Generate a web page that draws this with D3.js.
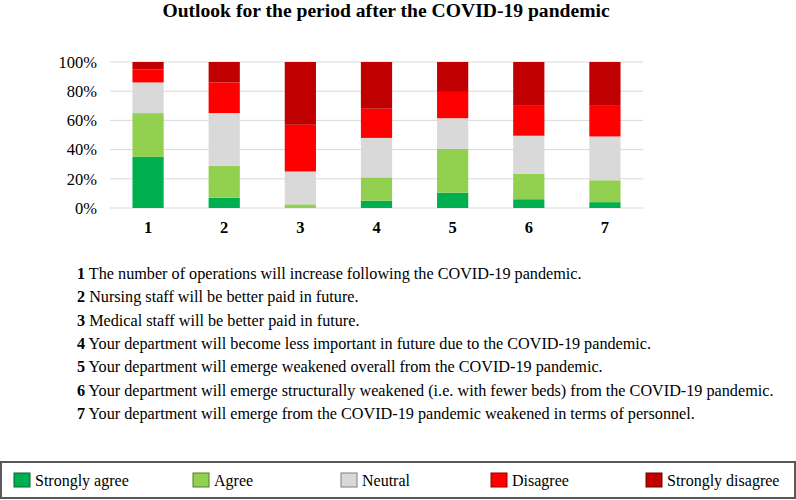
<!DOCTYPE html>
<html>
<head>
<meta charset="utf-8">
<script src="https://cdn.jsdelivr.net/npm/d3@7"></script>
<style>
  body { margin: 0; background: #fff; }
  svg { display: block; font-family: "Times New Roman", "Liberation Serif", serif; }
</style>
</head>
<body>
<svg></svg>
<script>
// Chart data (percent of respondents per answer)
const questions = ["1", "2", "3", "4", "5", "6", "7"];
const stronglyAgree    = [35, 7, 0, 5, 10.5, 6, 4];
const agree            = [30, 22, 2.5, 16, 30, 17.5, 15];
const neutral          = [21, 36, 22.5, 27, 21, 26, 30];
const disagree         = [9, 21, 32, 20, 18, 21, 21.5];
const stronglyDisagree = [5, 14, 43, 32, 20.5, 29.5, 29.5];

const seriesNames = ["Strongly agree", "Agree", "Neutral", "Disagree", "Strongly disagree"];
const seriesColors = ["#00b050", "#92d050", "#d9d9d9", "#ff0000", "#c00000"];
const yTicks = [0, 20, 40, 60, 80, 100];

const statements = [
    "The number of operations will increase following the COVID-19 pandemic.",
    "Nursing staff will be better paid in future.",
    "Medical staff will be better paid in future.",
    "Your department will become less important in future due to the COVID-19 pandemic.",
    "Your department will emerge weakened overall from the COVID-19 pandemic.",
    "Your department will emerge structurally weakened (i.e. with fewer beds) from the COVID-19 pandemic.",
    "Your department will emerge from the COVID-19 pandemic weakened in terms of personnel."
];

// Dimensions
const svgWidth = 796;
const svgHeight = 500;
const plot = { left: 110, right: 643, top: 62, bottom: 208 };
const fontStack = "\"Times New Roman\", \"Liberation Serif\", serif";

const svg = d3.select("svg")
    .attr("width", svgWidth)
    .attr("height", svgHeight);

// Build rows for the stack layout
const rows = questions.map((q, i) => ({
    q: q,
    "Strongly agree": stronglyAgree[i],
    "Agree": agree[i],
    "Neutral": neutral[i],
    "Disagree": disagree[i],
    "Strongly disagree": stronglyDisagree[i]
}));
const stacked = d3.stack().keys(seriesNames)(rows);

const x = d3.scaleBand()
    .domain(questions)
    .range([plot.left, plot.right])
    .paddingInner(0.59)
    .paddingOuter(0.295);

const y = d3.scaleLinear()
    .domain([0, 100])
    .range([plot.bottom, plot.top]);

const color = d3.scaleOrdinal().domain(seriesNames).range(seriesColors);

// Title
svg.append("text")
    .attr("x", 386)
    .attr("y", 17)
    .attr("text-anchor", "middle")
    .style("font-size", "19.6px")
    .style("font-weight", "bold")
    .text("Outlook for the period after the COVID-19 pandemic");

// Horizontal grid lines
svg.append("g")
    .selectAll("line")
    .data(yTicks)
    .enter()
    .append("line")
    .attr("x1", plot.left)
    .attr("x2", plot.right)
    .attr("y1", d => y(d))
    .attr("y2", d => y(d))
    .attr("stroke", "#d9d9d9")
    .attr("stroke-width", 1);

// Y axis labels
const yAxis = svg.append("g")
    .attr("transform", `translate(${plot.left - 13},0)`)
    .call(d3.axisLeft(y).tickValues(yTicks).tickSize(0).tickPadding(0).tickFormat(d => d + "%"));
yAxis.select(".domain").remove();
yAxis.selectAll("text")
    .style("font-family", fontStack)
    .style("font-size", "16.5px")
    .attr("fill", "#000");

// Bars
svg.append("g")
    .selectAll("g")
    .data(stacked)
    .enter()
    .append("g")
    .attr("fill", d => color(d.key))
    .selectAll("rect")
    .data(d => d)
    .enter()
    .append("rect")
    .attr("x", d => x(d.data.q))
    .attr("width", x.bandwidth())
    .attr("y", d => y(d[1]))
    .attr("height", d => y(d[0]) - y(d[1]));

// X axis labels
const xAxis = svg.append("g")
    .attr("transform", `translate(0,${plot.bottom + 13})`)
    .call(d3.axisBottom(x).tickSize(0).tickPadding(0));
xAxis.select(".domain").remove();
xAxis.selectAll("text")
    .style("font-family", fontStack)
    .style("font-size", "16.5px")
    .style("font-weight", "bold")
    .attr("fill", "#000");

// Statement list
const list = svg.append("g")
    .selectAll("text")
    .data(statements)
    .enter()
    .append("text")
    .attr("x", 77)
    .attr("y", (d, i) => 279 + i * 23.3)
    .style("font-size", "16.2px");
list.append("tspan")
    .style("font-weight", "bold")
    .text((d, i) => questions[i]);
list.append("tspan")
    .text(d => " " + d);

// Legend
const legendX = [14, 193, 341, 491, 646];
svg.append("rect")
    .attr("x", 1)
    .attr("y", 462)
    .attr("width", svgWidth - 2)
    .attr("height", 36)
    .attr("fill", "none")
    .attr("stroke", "#595959")
    .attr("stroke-width", 2);

const legend = svg.append("g")
    .selectAll("g")
    .data(seriesNames)
    .enter()
    .append("g")
    .attr("transform", (d, i) => `translate(${legendX[i]},473)`);
legend.append("rect")
    .attr("width", 16)
    .attr("height", 14)
    .attr("fill", d => color(d))
    .attr("stroke", d => d3.color(color(d)).darker(1.5))
    .attr("stroke-width", 1);
legend.append("text")
    .attr("x", 21)
    .attr("y", 13)
    .style("font-size", "16px")
    .text(d => d);
</script>
</body>
</html>
